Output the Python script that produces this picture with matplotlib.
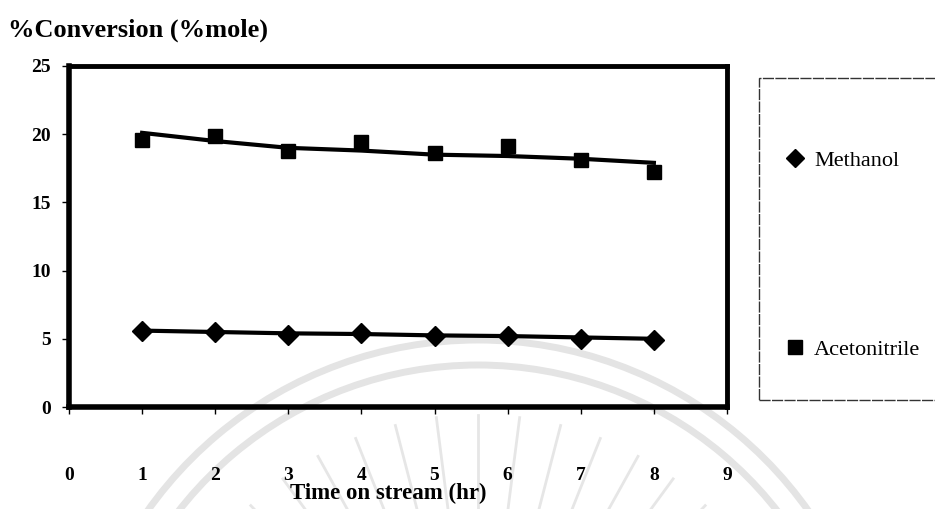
import matplotlib.pyplot as plt
import numpy as np
from matplotlib.patches import Rectangle, Arc

plt.rcParams['font.family'] = ['Liberation Serif', 'DejaVu Serif']

# time on stream (hr)
hours = [1, 2, 3, 4, 5, 6, 7, 8]

# % conversion, measured points
methanol = [5.6, 5.5, 5.3, 5.4, 5.2, 5.2, 5.0, 4.9]
acetonitrile = [19.6, 19.9, 18.8, 19.4, 18.6, 19.1, 18.1, 17.2]

# smoothed trend lines through the points
methanol_trend = [5.6, 5.5, 5.4, 5.35, 5.25, 5.2, 5.1, 5.0]
acetonitrile_trend = [20.1, 19.5, 19.0, 18.8, 18.5, 18.4, 18.2, 17.9]

x_ticks = [0, 1, 2, 3, 4, 5, 6, 7, 8, 9]
y_ticks = [0, 5, 10, 15, 20, 25]

W, H = 935, 509
fig = plt.figure(figsize=(W / 100, H / 100), dpi=100)

# faint seal in the background
bg = fig.add_axes([0, 0, 1, 1], zorder=-5)
bg.set_xlim(0, W)
bg.set_ylim(H, 0)
bg.axis('off')
cx, cy = 478, 745
for r in (405, 380):
    bg.add_patch(Arc((cx, cy), 2 * r, 2 * r, theta1=190, theta2=350,
                     color='#e4e4e4', lw=5))
for ang in np.linspace(212, 328, 17):
    a = np.radians(ang)
    bg.plot([cx + 200 * np.cos(a), cx + 330 * np.cos(a)],
            [cy + 200 * np.sin(a), cy + 330 * np.sin(a)],
            color='#e6e6e6', lw=2)

ax = fig.add_axes([69 / W, 1 - 407 / H, (727 - 69) / W, (407 - 66) / H])
ax.set_facecolor('none')

ax.plot(hours, methanol_trend, color='black', lw=3, zorder=2)
ax.plot(hours, acetonitrile_trend, color='black', lw=3, zorder=2)
ax.plot(hours, methanol, linestyle='', marker='D', ms=10, color='black',
        label='Methanol', zorder=3)
ax.plot(hours, acetonitrile, linestyle='', marker='s', ms=10.5, color='black',
        label='Acetonitrile', zorder=3)

ax.set_xlim(0, 9)
ax.set_ylim(0, 25)
ax.set_xticks(x_ticks)
ax.set_yticks(y_ticks)
for side, w in (('left', 4), ('bottom', 4), ('top', 3.5), ('right', 3.5)):
    ax.spines[side].set_linewidth(w)
    ax.spines[side].set_color('black')
ax.tick_params(axis='x', direction='out', length=5, width=1, pad=38,
               labelsize=14)
ax.tick_params(axis='y', direction='out', length=5, width=1, pad=8,
               labelsize=14)
for lab in ax.get_xticklabels() + ax.get_yticklabels():
    lab.set_fontweight('bold')

fig.text(8 / W, 1 - 30 / H, '%Conversion (%mole)', fontsize=19,
         fontweight='bold', ha='left', va='center')
fig.text(388 / W, 1 - 493 / H, 'Time on stream (hr)', fontsize=16.5,
         fontweight='bold', ha='center', va='center')

# legend box on the right
fig.patches.append(Rectangle((759 / W, 1 - 400 / H), 200 / W, 322 / H,
                             transform=fig.transFigure, fill=False,
                             edgecolor='#333333', lw=1,
                             linestyle=(0, (8, 1))))
leg = fig.legend(loc='upper left', bbox_to_anchor=(764 / W, 1 - 130 / H),
                 frameon=False, fontsize=16, handlelength=1.0,
                 handletextpad=0.35, labelspacing=7.6, markerscale=0.9)

fig.savefig('out.png', dpi=100)
